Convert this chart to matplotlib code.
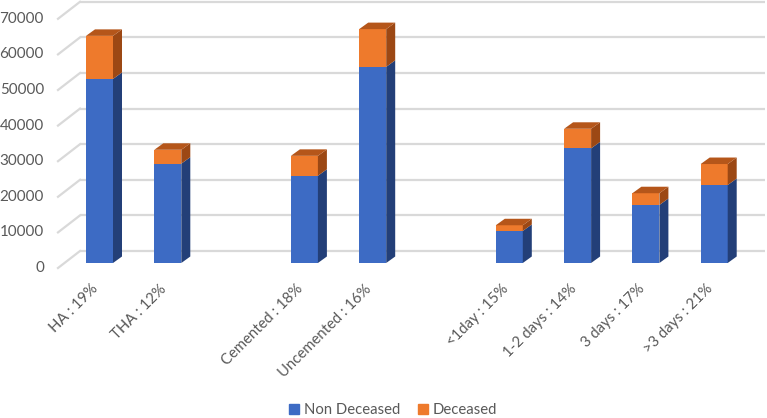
"""
Faux-3D stacked column chart: non deceased vs deceased by group.
"""

import matplotlib
matplotlib.use("Agg")
import matplotlib.pyplot as plt
from matplotlib.patches import Polygon, Patch

groups = [
    ["HA : 19%", "THA : 12%"],
    ["Cemented : 18%", "Uncemented : 16%"],
    ["<1day : 15%", "1-2 days : 14%", "3 days : 17%", ">3 days : 21%"],
]
non_deceased = [51700, 27900, 24500, 55100, 9000, 32200, 16300, 21900]
deceased = [12100, 3900, 5600, 10600, 1600, 5500, 3300, 5900]
y_ticks = [0, 10000, 20000, 30000, 40000, 50000, 60000, 70000]

BLUE, BLUE_SIDE = "#3d6bc4", "#233f78"
ORANGE, ORANGE_SIDE, ORANGE_TOP = "#ee7a2c", "#9c4814", "#b5561a"
GRID = "#d9d9d9"
TEXT = "#595959"

# pixel scale of the figure (767 x 418)
PX_X = 68.3            # pixels per category slot
PX_Y = 10000 / 35.6    # value units per pixel
X0, Y0 = 99.5, 263     # pixel position of first bar centre / baseline

labels, positions = [], []
slot = 0
for g in groups:
    for lab in g:
        labels.append(lab)
        positions.append(slot)
        slot += 1
    slot += 1

plt.rcParams["font.family"] = ["Lato", "DejaVu Sans"]
fig = plt.figure(figsize=(7.67, 4.18), dpi=100)
ax = fig.add_axes([0, 0, 1, 1])
ax.set_xlim(-X0 / PX_X, (767 - X0) / PX_X)
ax.set_ylim(-(418 - Y0) * PX_Y, Y0 * PX_Y)
ax.axis("off")

width = 27 / PX_X
dx, dy = 9 / PX_X, 6.5 * PX_Y
wall_dy = 12 * PX_Y
wall_x0 = (80 - X0) / PX_X
wall_x1 = (765 - X0) / PX_X
front_x = (58 - X0) / PX_X
front_dy = -5 * PX_Y

# back wall and side wall gridlines
for v in y_ticks:
    ax.plot([wall_x0, wall_x1], [v + wall_dy, v + wall_dy], color=GRID, lw=1.6, zorder=1,
            solid_capstyle="butt")
    ax.plot([front_x, wall_x0], [v + front_dy, v + wall_dy], color=GRID, lw=1.6, zorder=1)
    ax.text((44 - X0) / PX_X, v + front_dy, f"{v}", ha="right", va="center",
            fontsize=10.9, color=TEXT)

# bars: front faces, side faces, top face
for x, nd, d in zip(positions, non_deceased, deceased):
    ax.bar(x, nd, width=width, color=BLUE, zorder=3)
    ax.bar(x, d, bottom=nd, width=width, color=ORANGE, zorder=3)
    r = x + width / 2
    for y0, y1, c in [(0, nd, BLUE_SIDE), (nd, nd + d, ORANGE_SIDE)]:
        ax.add_patch(Polygon([(r, y0), (r + dx, y0 + dy), (r + dx, y1 + dy), (r, y1)],
                             closed=True, facecolor=c, edgecolor="none", zorder=3))
    top = nd + d
    ax.add_patch(Polygon([(x - width / 2, top), (x - width / 2 + dx, top + dy),
                          (r + dx, top + dy), (r, top)],
                         closed=True, facecolor=ORANGE_TOP, edgecolor="none", zorder=3))

for x, lab in zip(positions, labels):
    ax.text(x - 0.05, -24 * PX_Y, lab, rotation=45, rotation_mode="anchor",
            ha="right", va="center", fontsize=10.7, color=TEXT)

handles = [Patch(color=BLUE, label="Non Deceased"), Patch(color=ORANGE, label="Deceased")]
fig.legend(handles=handles, loc="center", bbox_to_anchor=(393 / 767, 8 / 418), ncol=2,
           frameon=False, fontsize=10.7, labelcolor=TEXT, handlelength=0.7,
           handleheight=0.7, handletextpad=0.3, columnspacing=1.2)

plt.savefig("out.png", dpi=100)
plt.close()
